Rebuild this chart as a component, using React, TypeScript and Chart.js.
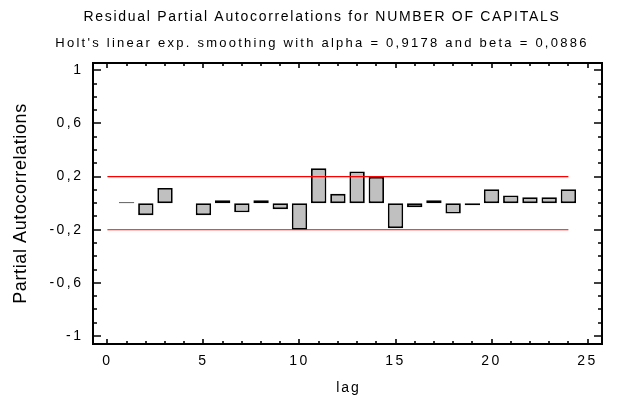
import React, { useEffect, useRef } from "react";
import { Chart, registerables } from "chart.js";

Chart.register(...registerables);

// ---- data ----
const lags = [1, 2, 3, 4, 5, 6, 7, 8, 9, 10, 11, 12, 13, 14, 15, 16, 17, 18, 19, 20, 21, 22, 23, 24];
const pacf: (number | null)[] = [
  0.006, -0.09, 0.115, null, -0.09, 0.022, -0.068, 0.022, -0.045, -0.2, 0.262, 0.07,
  0.238, 0.198, -0.188, -0.03, 0.022, -0.078, -0.015, 0.105, 0.058, 0.045, 0.045, 0.105,
];
const limitLags = [0, 24];
const upperLimit = 0.2;
const lowerLimit = -0.2;
const xTickValues = [0, 5, 10, 15, 20, 25];
const yTickValues = [1, 0.6, 0.2, -0.2, -0.6, -1];

const titleText = "Residual Partial Autocorrelations for NUMBER OF CAPITALS";
const subtitleText = "Holt's linear exp. smoothing with alpha = 0,9178 and beta = 0,0886";
const xTitle = "lag";
const yTitle = "Partial Autocorrelations";

const FONT = '"Liberation Sans", Arial, sans-serif';

export default function App() {
  const ref = useRef<HTMLCanvasElement>(null);

  useEffect(() => {
    const canvas = ref.current;
    if (!canvas) return;

    const framePlugin = {
      id: "frameAndTitles",
      beforeDraw(chart: any) {
        chart.ctx.letterSpacing = "2.5px";
      },
      afterDraw(chart: any) {
        const { ctx, chartArea: a, scales } = chart;
        const xs = scales.x;
        const ys = scales.y;
        ctx.save();
        ctx.strokeStyle = "#000";
        ctx.lineWidth = 2;
        ctx.strokeRect(a.left, a.top, a.right - a.left, a.bottom - a.top);

        ctx.lineWidth = 1.6;
        ctx.beginPath();
        for (let v = 0; v <= 25; v++) {
          const px = Math.round(xs.getPixelForValue(v));
          const len = v % 5 === 0 ? 5 : 3;
          ctx.moveTo(px, a.bottom);
          ctx.lineTo(px, a.bottom - len);
          ctx.moveTo(px, a.top);
          ctx.lineTo(px, a.top + len);
        }
        for (let i = -10; i <= 10; i++) {
          const py = Math.round(ys.getPixelForValue(i / 10));
          const major = (i + 10) % 4 === 0;
          const len = major ? 8 : 4;
          ctx.moveTo(a.left, py);
          ctx.lineTo(a.left + len, py);
          ctx.moveTo(a.right, py);
          ctx.lineTo(a.right - len, py);
        }
        ctx.stroke();

        ctx.fillStyle = "#000";
        ctx.textAlign = "center";
        ctx.textBaseline = "alphabetic";
        ctx.font = `14px ${FONT}`;
        ctx.letterSpacing = "1.7px";
        ctx.fillText(titleText, 322, 21);
        ctx.font = `13px ${FONT}`;
        ctx.letterSpacing = "2.25px";
        ctx.fillText(subtitleText, 322, 47);

        ctx.font = `14px ${FONT}`;
        ctx.letterSpacing = "2px";
        ctx.fillText(xTitle, (a.left + a.right) / 2 + 1, 392);

        ctx.letterSpacing = "0.6px";
        ctx.font = `18px ${FONT}`;
        ctx.translate(26, (a.top + a.bottom) / 2);
        ctx.rotate(-Math.PI / 2);
        ctx.fillText(yTitle, 0, 0);
        ctx.restore();
      },
    };

    const chart = new Chart(canvas, {
      type: "bar",
      data: {
        datasets: [
          {
            type: "bar",
            data: lags.map((l, i) => ({ x: l, y: pacf[i] })),
            backgroundColor: "#C0C0C0",
            borderColor: "#000",
            borderWidth: 1.8,
            borderSkipped: false,
            barPercentage: 0.8,
            categoryPercentage: 1,
            order: 2,
          } as any,
          {
            type: "line",
            data: limitLags.map((l) => ({ x: l, y: upperLimit })),
            borderColor: "#FF0000",
            borderWidth: 1.2,
            pointRadius: 0,
            order: 1,
          } as any,
          {
            type: "line",
            data: limitLags.map((l) => ({ x: l, y: lowerLimit })),
            borderColor: "#FF0000",
            borderWidth: 1.2,
            pointRadius: 0,
            order: 1,
          } as any,
        ],
      },
      options: {
        animation: false,
        responsive: true,
        maintainAspectRatio: false,
        layout: { padding: { left: 0, right: 28, top: 63, bottom: 0 } },
        plugins: {
          legend: { display: false },
          tooltip: { enabled: false },
          title: { display: false },
        },
        scales: {
          x: {
            type: "linear",
            min: -0.75,
            max: 25.75,
            offset: false,
            grid: { display: false, drawTicks: false, offset: false },
            border: { display: false },
            afterBuildTicks: (axis: any) => {
              axis.ticks = xTickValues.map((v) => ({ value: v }));
            },
            afterFit: (s: any) => {
              s.height = 57;
            },
            ticks: {
              autoSkip: false,
              maxRotation: 0,
              padding: 9,
              color: "#000",
              font: { family: FONT, size: 14 },
              callback: (v: any) => String(v),
            },
          },
          y: {
            type: "linear",
            min: -1.06,
            max: 1.055,
            grid: { display: false, drawTicks: false },
            border: { display: false },
            afterBuildTicks: (axis: any) => {
              axis.ticks = yTickValues.map((v) => ({ value: v }));
            },
            afterFit: (s: any) => {
              s.width = 93;
            },
            ticks: {
              autoSkip: false,
              padding: 9.5,
              color: "#000",
              font: { family: FONT, size: 14 },
              callback: (v: any) => String(v).replace(".", ","),
            },
          },
        },
      },
      plugins: [framePlugin],
    });

    return () => chart.destroy();
  }, []);

  return (
    <div style={{ position: "fixed", left: 0, top: 0, width: 630, height: 401, background: "#fff" }}>
      <canvas ref={ref} />
    </div>
  );
}
